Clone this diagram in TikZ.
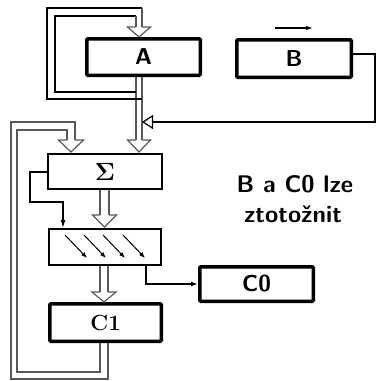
\documentclass[tikz,border=0pt]{standalone}
\usepackage[no-math]{fontspec}
\usetikzlibrary{arrows.meta,backgrounds,calc}
\newcommand\hhead[5]{% cx, base, tip, gap, halfwidth
  \draw[shaft,fill=white] (#1-#4,#2) -- (#1-#5,#2) -- (#1,#3) -- (#1+#5,#2) -- (#1+#4,#2);}
\begin{document}
\begin{tikzpicture}[x=1pt,y=-1pt,
  lab/.style={font=\fontsize{23}{26}\selectfont\sffamily\bfseries\addfontfeatures{LetterSpace=6}},
  thickbox/.style={draw,line width=3.5pt,rounded corners=1pt,fill=white,inner sep=0pt},
  thinbox/.style={draw,line width=2pt,fill=white,inner sep=0pt},
  shaft/.style={draw=black!65,line width=1.2pt},
  loopline/.style={draw=black,line width=1.6pt},
  wire/.style={draw=black,line width=1.4pt},
  note/.style={font=\fontsize{24}{27}\selectfont\sffamily\bfseries\addfontfeatures{LetterSpace=9}}]
\useasboundingbox (0,0) rectangle (379,381);

% boxes
\node[thickbox,lab,minimum width=113.5pt,minimum height=36.5pt] (A) at (143.5,57) {A};
\node[thickbox,lab,minimum width=114.5pt,minimum height=37.5pt] (B) at (294,58.5) {B};
\node[thinbox,minimum width=114pt,minimum height=35pt,font=\fontsize{26}{29}\selectfont] (S) at (105,171.5) {$\mathbf{\Sigma}$};
\node[thinbox,minimum width=112pt,minimum height=36pt] (R) at (105,247) {};
\node[thickbox,minimum width=111.5pt,minimum height=37.5pt,font=\fontsize{22}{25}\selectfont\bfseries] (C1) at (105.5,322.5) {C1};
\node[thickbox,lab,minimum width=113.5pt,minimum height=34.5pt] (C0) at (256.5,284) {C0};

% note
\node[note,anchor=base] (n1) at (295,192) {B a C0 lze};
\node[note,anchor=base] (n2) at (293,222) {ztotožnit};

% shifter inner arrows
\foreach \xx [count=\i] in {65,84,103,123}{
  \coordinate (d\i) at (\xx,235);
  \draw[line width=1pt,-{Latex[length=6pt,width=4.5pt]}] (d\i) -- ++(22,23);
}

% arrow above B
\coordinate (bl) at (275,28);
\coordinate (br) at (313,28);
\draw[line width=1.2pt,-{Latex[length=7pt,width=4.5pt]}] (bl) -- (br);

\begin{pgfonlayer}{background}
% A -> Sigma shaft
\draw[shaft] ($(A.south)+(-7.5,0)$) -- (136,140);
\draw[shaft] ($(A.south)+(-1.5,0)$) -- (142,140);
% top feedback loop into A
\draw[loopline] (142,99) -- (47,99) -- (47,8) -- (142,8);
\draw[loopline] (136,92) -- (55,92) -- (55,16) -- (136,16);
\draw[shaft] (142,8) -- (142,27);
\draw[shaft] (136,16) -- (136,27);
% C1 -> Sigma feedback loop
\draw[shaft] ($(C1.south)+(2.5,0)$) -- (108,379) -- (11,379) -- (11,122) -- (75,122) -- (75,140);
\draw[shaft] ($(C1.south)+(-5.5,0)$) -- (100,372) -- (17,372) -- (17,130) -- (67,130) -- (67,140);
% Sigma -> shifter
\draw[shaft] ($(S.south)+(-5,0)$) -- (100,215);
\draw[shaft] ($(S.south)+(4,0)$) -- (109,215);
% shifter -> C1
\draw[shaft] ($(R.south)+(-5,0)$) -- (100,292);
\draw[shaft] ($(R.south)+(3,0)$) -- (108,292);
\end{pgfonlayer}

% hollow heads
\hhead{139}{27}{37}{3}{11.5}
\hhead{139}{140}{152}{3}{11.5}
\hhead{71}{140}{152}{4}{12.5}
\hhead{104.5}{215}{227}{4.5}{12}
\hhead{104}{292}{302}{4}{12}

% wires
\draw[wire,-{Latex[length=8pt,width=5pt]}] ($(S.west)+(0,0.5)$) -- (30,172) -- (30,202) -- (63,202) -- (R.north -| 63,0);
\draw[wire,-{Latex[length=7pt,width=5pt]}] ($(R.south)+(41,0)$) |- (C0.west);
\coordinate (tri) at (142,122);
\draw[wire,-{Triangle[open,fill=white,length=11pt,width=14pt,line width=1.2pt]}] ($(B.east)+(0,-4.5)$) -- (375,54) -- (375,122) -- (tri);
\end{tikzpicture}
\end{document}
